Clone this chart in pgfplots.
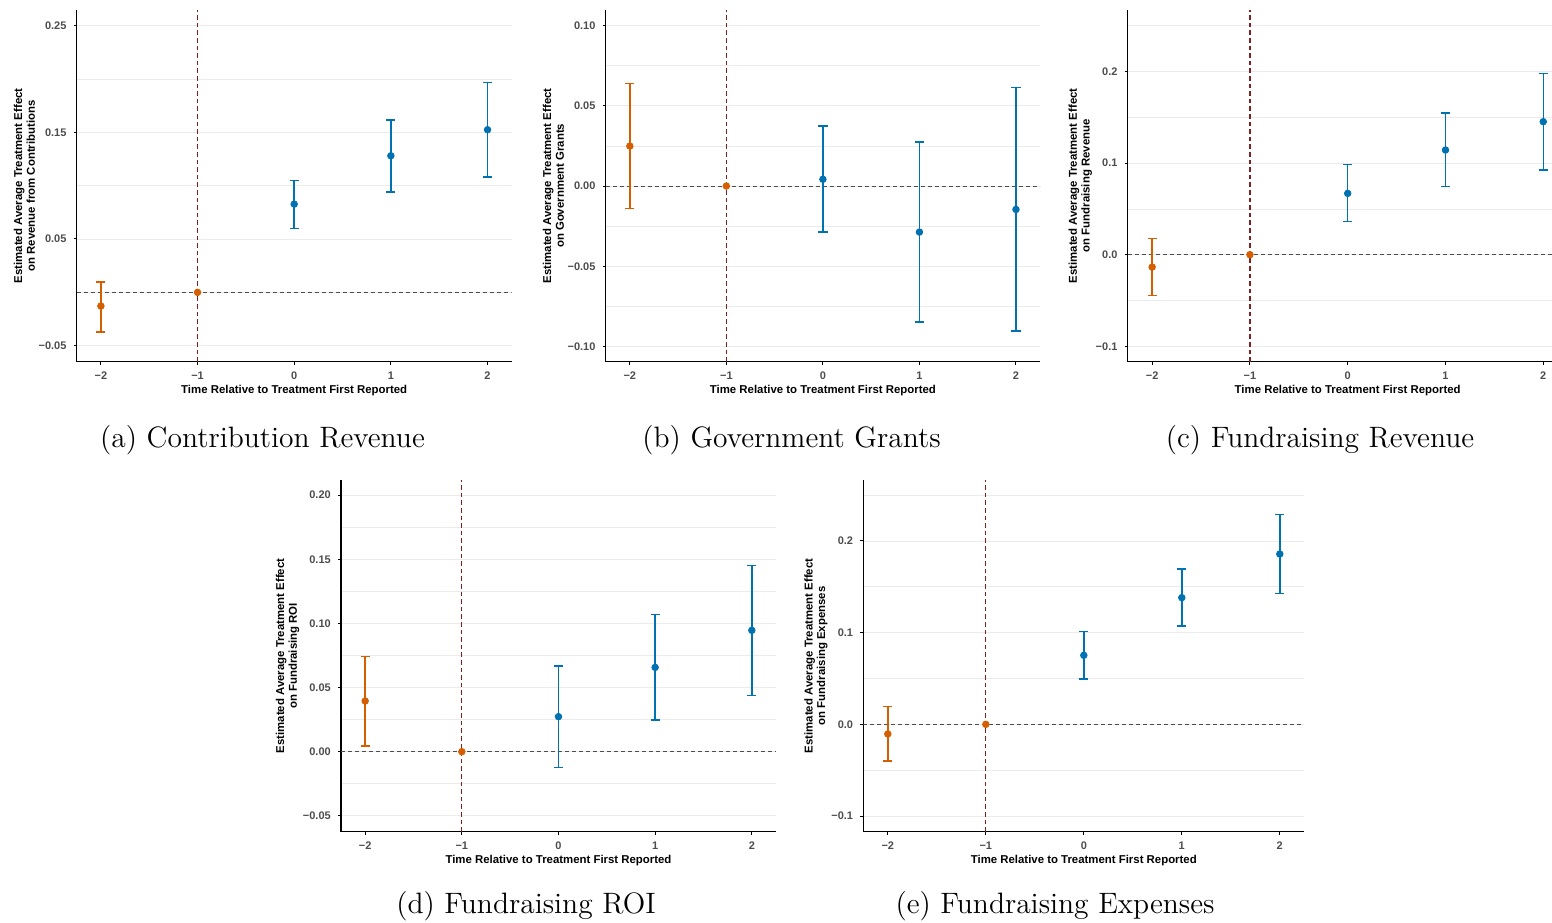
\documentclass[border=0pt]{standalone}
\usepackage{fontspec}
\usepackage{pgfplots}
\usepackage{pgfplotstable}
\pgfplotsset{compat=1.18}
\newfontfamily\arialfont{Liberation Sans}

\definecolor{preC}{HTML}{D55E00}
\definecolor{postC}{HTML}{0072B2}
\definecolor{tickgray}{HTML}{4D4D4D}
\definecolor{gridgray}{HTML}{EBEBEB}
\definecolor{refred}{rgb}{0.5,0.12,0.12}

% event-study estimates: t, point estimate, lower and upper 95% bound
\pgfplotstableread{
t   est      lo       hi
-2  -0.0128  -0.0370  0.0099
-1   0.0000   0.0000  0.0000
 0   0.0827   0.0600  0.1050
 1   0.1280   0.0940  0.1617
 2   0.1524   0.1083  0.1968
}\tabContrib
\pgfplotstableread{
t   est      lo       hi
-2   0.0249  -0.0139  0.0638
-1   0.0000   0.0000  0.0000
 0   0.0042  -0.0287  0.0374
 1  -0.0287  -0.0848  0.0274
 2  -0.0146  -0.0904  0.0613
}\tabGrants
\pgfplotstableread{
t   est      lo       hi
-2  -0.0135  -0.0447  0.0178
-1   0.0000   0.0000  0.0000
 0   0.0669   0.0360  0.0982
 1   0.1142   0.0742  0.1545
 2   0.1451   0.0924  0.1978
}\tabFundRev
\pgfplotstableread{
t   est      lo       hi
-2   0.0395   0.0044  0.0743
-1   0.0000   0.0000  0.0000
 0   0.0273  -0.0122  0.0668
 1   0.0657   0.0247  0.1071
 2   0.0946   0.0439  0.1450
}\tabROI
\pgfplotstableread{
t   est      lo       hi
-2  -0.0105  -0.0400  0.0193
-1   0.0000   0.0000  0.0000
 0   0.0753   0.0495  0.1011
 1   0.1382   0.1073  0.1695
 2   0.1858   0.1429  0.2291
}\tabFundExp

\pgfplotsset{
  evstudy/.style={
    scale only axis, height=175.85pt,
    axis x line*=bottom, axis y line*=left,
    axis line style={line width=0.7pt, black},
    xmin=-2.25, xmax=2.25,
    xtick={-2,-1,0,1,2}, xticklabels={−2,−1,0,1,2},
    tick align=outside, major tick length=1.6pt,
    minor tick length=0pt,
    tick style={line width=0.5pt, black},
    ymajorgrids, yminorgrids,
    major grid style={line width=0.35pt, gridgray},
    minor grid style={line width=0.35pt, gridgray},
    tick label style={font=\arialfont\bfseries\fontsize{5.5}{6}\selectfont, text=tickgray},
    label style={font=\arialfont\bfseries\fontsize{5.7}{6.3}\selectfont, black},
    ylabel style={align=center},
    ylabel shift=-5pt,
    xlabel shift=-4pt,
    xlabel={Time Relative to Treatment First Reported},
  },
  zeroline/.style={line width=0.5pt, tickgray, dash pattern=on 2pt off 1.5pt, forget plot},
  baseline/.style={line width=0.65pt, refred, dash pattern=on 2.3pt off 1.5pt, forget plot},
  preerr/.style={only marks, mark=*, color=preC, mark size=1.65pt,
    restrict x to domain=-2.5:-1.5,
    error bars/.cd, y dir=both, y explicit,
    error bar style={line width=0.75pt, preC},
    error mark options={rotate=90, mark size=2.3pt, line width=0.75pt, preC}},
  prept/.style={only marks, mark=*, color=preC, mark size=1.65pt,
    restrict x to domain=-1.5:-0.5},
  posterr/.style={only marks, mark=*, color=postC, mark size=1.65pt,
    restrict x to domain=-0.5:2.5,
    error bars/.cd, y dir=both, y explicit,
    error bar style={line width=0.75pt, postC},
    error mark options={rotate=90, mark size=2.3pt, line width=0.75pt, postC}},
}

% one panel: table, ymin, ymax
\newcommand{\estimates}[3]{%
  \addplot[zeroline] coordinates {(-2.25,0) (2.25,0)};
  \addplot[baseline] coordinates {(-1,#2) (-1,#3)};
  \addplot[preerr] table[x=t, y=est,
    y error plus expr=\thisrow{hi}-\thisrow{est},
    y error minus expr=\thisrow{est}-\thisrow{lo}] {#1};
  \addplot[prept] table[x=t, y=est] {#1};
  \addplot[posterr] table[x=t, y=est,
    y error plus expr=\thisrow{hi}-\thisrow{est},
    y error minus expr=\thisrow{est}-\thisrow{lo}] {#1};
}

\begin{document}
\begin{tikzpicture}
\useasboundingbox (0pt,0pt) rectangle (776pt,-461pt);

% (a)
\begin{axis}[evstudy, at={(38.35pt,-180.85pt)}, anchor=south west, width=217.5pt,
  ymin=-0.065, ymax=0.2646,
  ytick={-0.05,0.05,0.15,0.25}, yticklabels={−0.05,0.05,0.15,0.25},
  minor ytick={0,0.1,0.2},
  ylabel={Estimated Average Treatment Effect\\on Revenue from Contributions}]
\estimates{\tabContrib}{-0.065}{0.2646}
\end{axis}

% (b)
\begin{axis}[evstudy, at={(302.85pt,-180.85pt)}, anchor=south west, width=217.2pt,
  ymin=-0.1095, ymax=0.1097,
  ytick={-0.1,-0.05,0,0.05,0.1}, yticklabels={−0.10,−0.05,0.00,0.05,0.10},
  minor ytick={-0.075,-0.025,0.025,0.075},
  ylabel={Estimated Average Treatment Effect\\on Government Grants}]
\estimates{\tabGrants}{-0.1095}{0.1097}
\end{axis}

% (c)
\begin{axis}[evstudy, at={(563.85pt,-180.85pt)}, anchor=south west, width=220pt,
  ymin=-0.1167, ymax=0.2669,
  ytick={-0.1,0,0.1,0.2}, yticklabels={−0.1,0.0,0.1,0.2},
  minor ytick={-0.05,0.05,0.15,0.25},
  ylabel={Estimated Average Treatment Effect\\on Fundraising Revenue}]
\estimates{\tabFundRev}{-0.1167}{0.2669}
\end{axis}

% (d)
\begin{axis}[evstudy, at={(170.5pt,-415.85pt)}, anchor=south west, width=217.5pt,
  ymin=-0.0624, ymax=0.2118,
  ytick={-0.05,0,0.05,0.1,0.15,0.2}, yticklabels={−0.05,0.00,0.05,0.10,0.15,0.20},
  minor ytick={-0.025,0.025,0.075,0.125,0.175},
  ylabel={Estimated Average Treatment Effect\\on Fundraising ROI}]
\estimates{\tabROI}{-0.0624}{0.2118}
\end{axis}

% (e)
\begin{axis}[evstudy, at={(431.65pt,-415.85pt)}, anchor=south west, width=220.5pt,
  ymin=-0.1171, ymax=0.2665,
  ytick={-0.1,0,0.1,0.2}, yticklabels={−0.1,0.0,0.1,0.2},
  minor ytick={-0.05,0.05,0.15,0.25},
  ylabel={Estimated Average Treatment Effect\\on Fundraising Expenses}]
\estimates{\tabFundExp}{-0.1171}{0.2665}
\end{axis}

% sub-captions
\begin{scope}[every node/.style={anchor=base, inner sep=0pt, font=\fontsize{14.75}{17.5}\selectfont}]
\node at (131.25pt,-223.6pt) {(a) Contribution Revenue};
\node at (395.75pt,-223.6pt) {(b) Government Grants};
\node at (660pt,-223.6pt) {(c) Fundraising Revenue};
\node at (263pt,-456.8pt) {(d) Fundraising ROI};
\node at (527.5pt,-456.8pt) {(e) Fundraising Expenses};
\end{scope}
\end{tikzpicture}
\end{document}
